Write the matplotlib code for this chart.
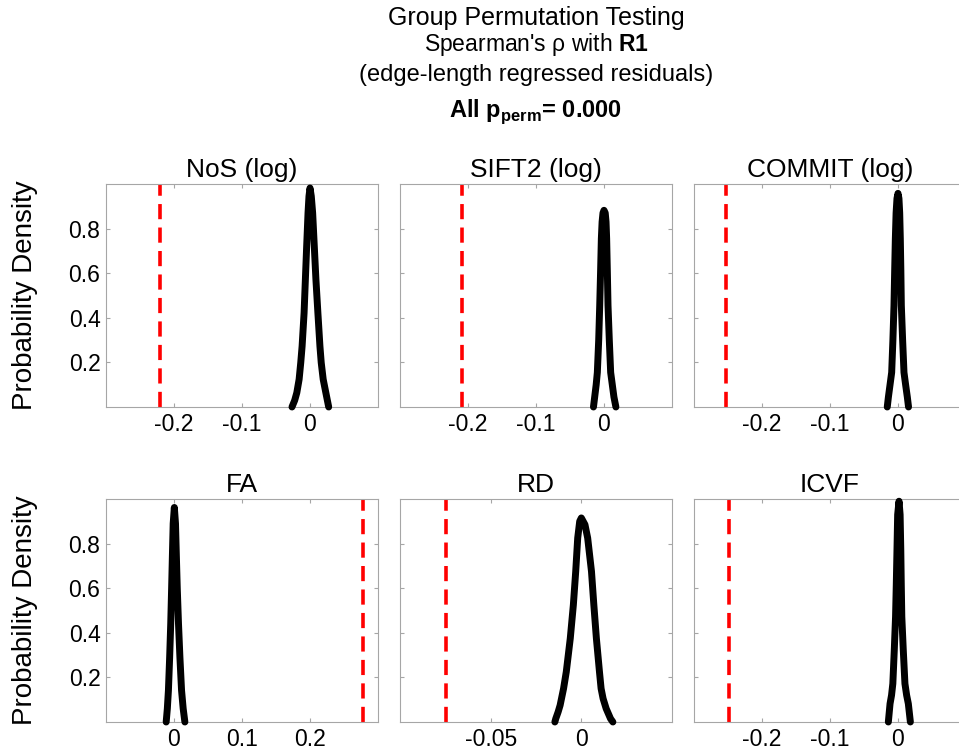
import matplotlib
matplotlib.use("Agg")
import matplotlib.pyplot as plt

plt.rcParams['font.family'] = ['Liberation Sans', 'DejaVu Sans']
plt.rcParams['mathtext.fontset'] = 'custom'
plt.rcParams['mathtext.rm'] = 'Liberation Sans'
plt.rcParams['mathtext.bf'] = 'Liberation Sans:bold'
plt.rcParams['axes.unicode_minus'] = False

# panel titles
titles = ["NoS (log)", "SIFT2 (log)", "COMMIT (log)", "FA", "RD", "ICVF"]

# observed (empirical) correlation, red dashed line
observed = [-0.221, -0.209, -0.253, 0.278, -0.0744, -0.248]

# null distributions (density)
nos_x = [-0.0265, -0.0225, -0.0194, -0.016, -0.0136, -0.0116, -0.0087, -0.0068, -0.0049,
         -0.0029, -0.0015, 0.0, 0.0019, 0.0039, 0.0063, 0.0087, 0.0116, 0.0146, 0.0165,
         0.0194, 0.0233, 0.0275]
nos_y = [0.0, 0.03, 0.064, 0.124, 0.199, 0.273, 0.422, 0.572, 0.721,
         0.87, 0.945, 0.982, 0.945, 0.87, 0.721, 0.572, 0.422, 0.273, 0.199,
         0.124, 0.064, 0.0]

sift_x = [-0.0155, -0.0137, -0.0115, -0.0098, -0.0078, -0.0063, -0.005, -0.0039, -0.0028,
          -0.0015, 0.0, 0.0018, 0.003, 0.0039, 0.0049, 0.0059, 0.0078, 0.0098, 0.0122,
          0.0146, 0.0175]
sift_y = [0.0, 0.045, 0.1, 0.155, 0.3, 0.455, 0.61, 0.755, 0.83,
          0.87, 0.882, 0.87, 0.83, 0.755, 0.61, 0.455, 0.3, 0.155, 0.1,
          0.045, 0.0]

commit_x = [-0.0158, -0.0141, -0.0117, -0.0093, -0.0075, -0.0059, -0.0049, -0.0039, -0.0028,
            -0.0015, 0.0, 0.0014, 0.0025, 0.0034, 0.0042, 0.0049, 0.0068, 0.0088, 0.0112,
            0.0137, 0.0155]
commit_y = [0.0, 0.045, 0.1, 0.155, 0.3, 0.455, 0.61, 0.755, 0.87,
            0.935, 0.958, 0.935, 0.87, 0.755, 0.61, 0.455, 0.3, 0.155, 0.1,
            0.045, 0.0]

fa_x = [-0.0115, -0.0098, -0.0082, -0.0064, -0.0048, -0.0035, -0.0024, -0.0012, 0.0005,
        0.0022, 0.0035, 0.0048, 0.0066, 0.0087, 0.0111, 0.0135, 0.016]
fa_y = [0.0, 0.06, 0.142, 0.29, 0.442, 0.6, 0.742, 0.89, 0.962,
        0.89, 0.742, 0.6, 0.442, 0.29, 0.142, 0.06, 0.0]

rd_x = [-0.0146, -0.0141, -0.0128, -0.0117, -0.0098, -0.0083, -0.0061, -0.0044, -0.0031,
        -0.002, -0.0009, 0.0, 0.002, 0.0035, 0.0056, 0.0069, 0.0083, 0.01, 0.0109,
        0.012, 0.0137, 0.0161, 0.0174]
rd_y = [0.0, 0.015, 0.045, 0.075, 0.15, 0.225, 0.375, 0.525, 0.675,
        0.825, 0.9, 0.915, 0.885, 0.825, 0.675, 0.525, 0.375, 0.225, 0.15,
        0.105, 0.06, 0.015, 0.0]

icvf_x = [-0.0142, -0.0117, -0.0095, -0.0076, -0.0055, -0.0036, -0.0025, -0.0015, -0.0005,
          0.0015, 0.0031, 0.0041, 0.0048, 0.0056, 0.0078, 0.0102, 0.0127, 0.0152, 0.0182]
icvf_y = [0.0, 0.082, 0.12, 0.172, 0.32, 0.472, 0.62, 0.772, 0.93,
          0.99, 0.93, 0.772, 0.62, 0.472, 0.32, 0.172, 0.12, 0.082, 0.0]

curves = [(nos_x, nos_y), (sift_x, sift_y), (commit_x, commit_y),
          (fa_x, fa_y), (rd_x, rd_y), (icvf_x, icvf_y)]

xlims = [(-0.3, 0.1), (-0.3, 0.1), (-0.3, 0.1), (-0.1, 0.3), (-0.1, 0.05), (-0.3, 0.1)]
xticks = [[-0.2, -0.1, 0], [-0.2, -0.1, 0], [-0.2, -0.1, 0],
          [0, 0.1, 0.2], [-0.05, 0], [-0.2, -0.1, 0]]
xticklabels = [["-0.2", "-0.1", "0"], ["-0.2", "-0.1", "0"], ["-0.2", "-0.1", "0"],
               ["0", "0.1", "0.2"], ["-0.05", "0"], ["-0.2", "-0.1", "0"]]
yticks = [0.2, 0.4, 0.6, 0.8]

W, H = 959, 751
fig = plt.figure(figsize=(W / 100, H / 100), dpi=100)

col_left = [106, 400, 694]
row_top = [184, 499]
ax_w, ax_h = 272, 223
grey = '#a6a6a6'

for i in range(6):
    r, c = divmod(i, 3)
    ax = fig.add_axes([col_left[c] / W, 1 - (row_top[r] + ax_h) / H, ax_w / W, ax_h / H])
    x, y = curves[i]
    ax.plot(x, y, color='black', lw=5, solid_joinstyle='round', solid_capstyle='round',
            clip_on=False, zorder=3)
    ax.axvline(observed[i], color='red', lw=2.6, linestyle=(0, (4.2, 2.3)))
    ax.set_xlim(*xlims[i])
    ax.set_ylim(0, 1.0)
    ax.set_xticks(xticks[i])
    ax.set_xticklabels(xticklabels[i])
    ax.set_yticks(yticks)
    if c == 0:
        ax.set_yticklabels(["0.2", "0.4", "0.6", "0.8"])
    else:
        ax.set_yticklabels([])
    for s in ax.spines.values():
        s.set_color(grey)
        s.set_linewidth(0.8)
    ax.tick_params(direction='in', top=True, right=True, length=3, width=0.8,
                   color=grey, labelsize=16.5, pad=4)
    ax.set_title(titles[i], fontsize=19, pad=5)
    if c == 0:
        fig.text(25 / W, 1 - (row_top[r] + ax_h / 2) / H, "Probability Density",
                 rotation=90, ha='center', va='center', fontsize=20)

cx = 536 / W
fig.text(cx, 1 - 18 / H, "Group Permutation Testing", ha='center', va='center', fontsize=18)
fig.text(cx, 1 - 45 / H, r"Spearman's ρ with $\mathbf{R1}$", ha='center', va='center', fontsize=16.5)
fig.text(cx, 1 - 75 / H, "(edge-length regressed residuals)", ha='center', va='center', fontsize=17)
fig.text(cx, 1 - 112 / H, r"All p$_{\mathbf{perm}}$= 0.000", ha='center', va='center',
         fontsize=17, fontweight='bold')

fig.savefig("out.png", dpi=100)
